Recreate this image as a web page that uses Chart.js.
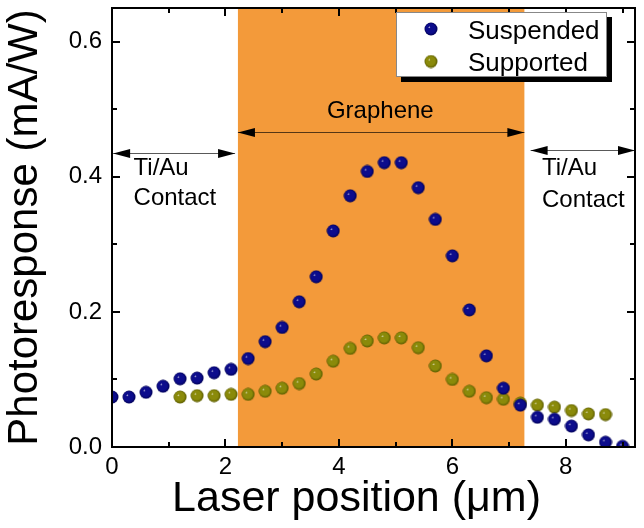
<!DOCTYPE html>
<html>
<head>
<meta charset="utf-8">
<script src="https://cdn.jsdelivr.net/npm/chart.js@4.4.1/dist/chart.umd.min.js"></script>
<style>
  html, body { margin: 0; padding: 0; background: #fff; }
  canvas { display: block; }
</style>
</head>
<body>
<canvas id="chart" width="644" height="528"></canvas>
<script>
// laser positions (um) and photoresponse (mA/W)
var suspendedX = [0, 0.3, 0.6, 0.9, 1.2, 1.5, 1.8, 2.1, 2.4, 2.7, 3.0, 3.3, 3.6, 3.9, 4.2, 4.5,
                  4.8, 5.1, 5.4, 5.7, 6.0, 6.3, 6.6, 6.9, 7.2, 7.5, 7.8, 8.1, 8.4, 8.7, 9.0];
var suspendedY = [0.074, 0.074, 0.081, 0.090, 0.101, 0.102, 0.110, 0.115, 0.131, 0.156, 0.177, 0.215,
                  0.252, 0.320, 0.372, 0.408, 0.421, 0.421, 0.384, 0.337, 0.283, 0.203, 0.135, 0.087,
                  0.062, 0.044, 0.041, 0.031, 0.018, 0.007, 0.001];
var supportedX = [1.2, 1.5, 1.8, 2.1, 2.4, 2.7, 3.0, 3.3, 3.6, 3.9, 4.2, 4.5, 4.8, 5.1, 5.4, 5.7,
                  6.0, 6.3, 6.6, 6.9, 7.2, 7.5, 7.8, 8.1, 8.4, 8.7];
var supportedY = [0.074, 0.076, 0.076, 0.078, 0.078, 0.0825, 0.087, 0.094, 0.108, 0.127, 0.146, 0.157,
                  0.1615, 0.1615, 0.147, 0.120, 0.100, 0.0825, 0.073, 0.0707, 0.065, 0.062, 0.059,
                  0.054, 0.049, 0.048];

var xMajor = [0, 2, 4, 6, 8];
var xMinor = [1, 3, 5, 7, 9];
var yMajor = [0, 0.2, 0.4, 0.6];
var yMinor = [0.1, 0.3, 0.5];

var grapheneStart = 2.22;
var grapheneEnd = 7.27;

var FONT = '"Liberation Sans", Arial, Helvetica, sans-serif';

function toPoints(xs, ys) {
    return xs.map(function(v, i) { return {x: v, y: ys[i]}; });
}

// little shaded ball used as point marker
function sphere(base, edge, r) {
    var c = document.createElement('canvas');
    var s = Math.ceil(r * 2) + 1;
    c.width = s; c.height = s;
    var g = c.getContext('2d');
    var cx = s / 2, cy = s / 2;
    var grad = g.createRadialGradient(cx - r * 0.3, cy - r * 0.3, 0, cx, cy, r);
    grad.addColorStop(0, '#ffffff');
    grad.addColorStop(0.18, base);
    grad.addColorStop(0.7, base);
    grad.addColorStop(1, edge);
    g.fillStyle = grad;
    g.beginPath();
    g.arc(cx, cy, r, 0, Math.PI * 2);
    g.fill();
    return c;
}

var blueBall = sphere('#0c0c8c', '#000055', 6.5);
var oliveBall = sphere('#8a8a0a', '#5a5a00', 6.5);

function resetCtx(ctx) {
    ctx.setLineDash([]);
    ctx.globalAlpha = 1;
    ctx.globalCompositeOperation = 'source-over';
    ctx.lineCap = 'butt';
    ctx.lineJoin = 'miter';
}

function arrow(ctx, xa, xb, yy) {
    var hl = 17, hw = 4.5;
    ctx.strokeStyle = 'rgba(0,0,0,0.65)';
    ctx.lineWidth = 1;
    ctx.beginPath();
    ctx.moveTo(xa, yy); ctx.lineTo(xb, yy);
    ctx.stroke();
    ctx.fillStyle = '#000';
    ctx.beginPath();
    ctx.moveTo(xa, yy); ctx.lineTo(xa + hl, yy - hw); ctx.lineTo(xa + hl, yy + hw); ctx.closePath();
    ctx.fill();
    ctx.beginPath();
    ctx.moveTo(xb, yy); ctx.lineTo(xb - hl, yy - hw); ctx.lineTo(xb - hl, yy + hw); ctx.closePath();
    ctx.fill();
}

var decor = {
    id: 'decor',
    beforeDatasetsDraw: function(chart) {
        var ctx = chart.ctx, a = chart.chartArea, x = chart.scales.x, y = chart.scales.y;
        ctx.save();
        resetCtx(ctx);
        // graphene region
        var x0 = x.getPixelForValue(grapheneStart), x1 = x.getPixelForValue(grapheneEnd);
        ctx.fillStyle = '#f39a3a';
        ctx.fillRect(x0, a.top, x1 - x0, a.bottom - a.top);

        // arrows
        arrow(ctx, x.getPixelForValue(0.02), x.getPixelForValue(2.17), Math.round(y.getPixelForValue(0.435)) + 0.5);
        arrow(ctx, x0, x1, Math.round(y.getPixelForValue(0.467)) + 0.5);
        arrow(ctx, x.getPixelForValue(7.38), a.right, Math.round(y.getPixelForValue(0.44)) + 0.5);

        // labels
        ctx.fillStyle = '#000';
        ctx.textBaseline = 'alphabetic';
        ctx.font = '24px ' + FONT;
        ctx.textAlign = 'center';
        ctx.fillText('Graphene', x.getPixelForValue(4.73), y.getPixelForValue(0.4865));
        ctx.textAlign = 'left';
        ctx.font = '24px ' + FONT;
        ctx.fillText('Ti/Au', x.getPixelForValue(0.38), y.getPixelForValue(0.402));
        ctx.fillText('Contact', x.getPixelForValue(0.38), y.getPixelForValue(0.358));
        ctx.fillText('Ti/Au', x.getPixelForValue(7.58), y.getPixelForValue(0.402));
        ctx.fillText('Contact', x.getPixelForValue(7.58), y.getPixelForValue(0.356));
        ctx.restore();
    },
    afterDraw: function(chart) {
        var ctx = chart.ctx, a = chart.chartArea, x = chart.scales.x, y = chart.scales.y;
        ctx.save();
        resetCtx(ctx);

        // frame
        ctx.strokeStyle = '#000000';
        ctx.lineWidth = 2;
        ctx.beginPath();
        ctx.rect(a.left, a.top, a.right - a.left, a.bottom - a.top);
        ctx.stroke();

        // inward ticks on all four sides
        function xt(list, len) {
            list.forEach(function(v) {
                var px = Math.round(x.getPixelForValue(v));
                ctx.beginPath();
                ctx.moveTo(px, a.bottom); ctx.lineTo(px, a.bottom - len);
                ctx.moveTo(px, a.top); ctx.lineTo(px, a.top + len);
                ctx.stroke();
            });
        }
        function yt(list, len) {
            list.forEach(function(v) {
                var py = Math.round(y.getPixelForValue(v));
                ctx.beginPath();
                ctx.moveTo(a.left, py); ctx.lineTo(a.left + len, py);
                ctx.moveTo(a.right, py); ctx.lineTo(a.right - len, py);
                ctx.stroke();
            });
        }
        xt(xMajor, 8); xt(xMinor, 5);
        yt(yMajor, 8); yt(yMinor, 5);

        // legend box with drop shadow
        var lx = a.right - 239, ly = a.top + 4, lw = 211, lh = 65;
        ctx.fillStyle = '#000';
        ctx.fillRect(lx + 5, ly + 5, lw, lh);
        ctx.fillStyle = '#fff';
        ctx.fillRect(lx, ly, lw, lh);
        ctx.strokeStyle = '#888888';
        ctx.lineWidth = 1;
        ctx.strokeRect(lx + 0.5, ly + 0.5, lw - 1, lh - 1);
        ctx.font = '26px ' + FONT;
        ctx.fillStyle = '#000';
        ctx.textAlign = 'left';
        ctx.textBaseline = 'alphabetic';
        chart.data.datasets.forEach(function(ds, i) {
            var cy = ly + 17 + i * 32.5;
            var img = ds.pointStyle;
            ctx.drawImage(img, lx + 35 - img.width / 2, cy - img.height / 2);
            ctx.fillText(ds.label, lx + 72, cy + 9.5);
        });

        // axis titles
        ctx.font = '43px ' + FONT;
        ctx.textAlign = 'center';
        ctx.fillText('Laser position (\u03bcm)', (a.left + a.right) / 2 - 17, 511);
        ctx.translate(37, (a.top + a.bottom) / 2);
        ctx.rotate(-Math.PI / 2);
        ctx.font = '42px ' + FONT;
        ctx.fillText('Photoresponse (mA/W)', 0, 0);
        ctx.restore();
    }
};

document.addEventListener('DOMContentLoaded', function() {
    var ctx = document.getElementById('chart').getContext('2d');
    new Chart(ctx, {
        type: 'scatter',
        data: {
            datasets: [{
                label: 'Suspended',
                data: toPoints(suspendedX, suspendedY),
                pointStyle: blueBall,
                pointRadius: 6.5,
                pointHoverRadius: 6.5
            }, {
                label: 'Supported',
                data: toPoints(supportedX, supportedY),
                pointStyle: oliveBall,
                pointRadius: 6.5,
                pointHoverRadius: 6.5
            }]
        },
        options: {
            responsive: false,
            animation: false,
            devicePixelRatio: 1,
            layout: { padding: { top: 8, right: 9, left: 0, bottom: 0 } },
            plugins: {
                legend: { display: false },
                tooltip: { enabled: false }
            },
            scales: {
                x: {
                    type: 'linear',
                    min: 0,
                    max: 9.22,
                    afterBuildTicks: function(scale) {
                        scale.ticks = xMajor.map(function(v) { return {value: v}; });
                    },
                    afterFit: function(scale) {
                        scale.height = 81;
                        scale.paddingLeft = 0;
                        scale.paddingRight = 0;
                    },
                    ticks: {
                        color: '#000',
                        padding: 6,
                        maxRotation: 0,
                        font: { family: FONT, size: 24 },
                        callback: function(v) { return String(v); }
                    },
                    grid: { display: false, drawTicks: false },
                    border: { display: false }
                },
                y: {
                    type: 'linear',
                    min: 0,
                    max: 0.65,
                    afterBuildTicks: function(scale) {
                        scale.ticks = yMajor.map(function(v) { return {value: v}; });
                    },
                    afterFit: function(scale) {
                        scale.width = 112;
                        scale.paddingTop = 0;
                        scale.paddingBottom = 0;
                    },
                    ticks: {
                        color: '#000',
                        padding: 10,
                        font: { family: FONT, size: 24 },
                        callback: function(v) { return v.toFixed(1); }
                    },
                    grid: { display: false, drawTicks: false },
                    border: { display: false }
                }
            }
        },
        plugins: [decor]
    });
});
</script>
</body>
</html>
